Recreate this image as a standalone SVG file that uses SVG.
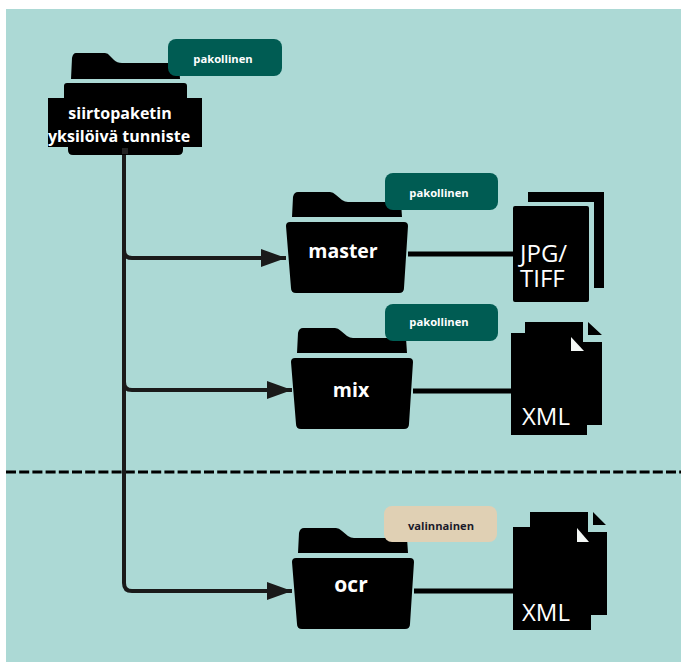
<svg xmlns="http://www.w3.org/2000/svg" width="681" height="662" viewBox="0 0 681 662">
<style>
.k{fill:#000}
.w{fill:#f4f8f6}
.t{font-family:"Open Sans","Noto Sans",sans-serif;fill:#fff}
.b{font-weight:700;font-size:19.5px;text-anchor:middle}
.r{font-weight:700;font-size:16px;text-anchor:middle}
.d{font-size:24px}
.p{font-weight:700;font-size:11.2px;text-anchor:middle}
.c{fill:none;stroke:#1a1a1a;stroke-width:4}
.g{fill:#005c53}
</style>
<defs>
<marker id="a" markerUnits="userSpaceOnUse" markerWidth="25" markerHeight="18" refX="25" refY="9" orient="auto"><path d="M0,0L25,9L0,18z" fill="#1a1a1a"/></marker>
<path id="folder" d="M7,-25L6,-5H116L115,-20H62Q59,-20 56,-22L50,-27Q47,-30 44,-30H12Q8,-30 7,-25ZM4,0H118Q122,0 122,4L118,66Q118,71 113,71H10Q5,71 5,66L0,4Q0,0 4,0Z"/>
</defs>
<rect width="681" height="662" fill="#fff"/>
<rect x="6" y="9" width="675" height="653" fill="#acd9d5"/>
<path d="M6,472H681" fill="none" stroke="#000" stroke-width="3" stroke-dasharray="10 3.2"/>
<g id="connectors">
<path class="c" d="M124,150V250Q124,258 132,258H286" marker-end="url(#a)"/>
<path class="c" d="M124,250V382Q124,390 132,390H292" marker-end="url(#a)"/>
<path class="c" d="M124,380V583Q124,591 132,591H292" marker-end="url(#a)"/>
<path d="M408,254H513M413,391H511M414,591H513" fill="none" stroke="#000" stroke-width="5"/>
</g>
<g id="root">
<path class="k" d="M72,58L71,79H180L179,63H122Q117,63 114,60L110,56Q108,53 105,53H76Q73,53 72,58ZM67,83H184Q187,83 187,86V98H202V147H183V150Q183,155 178,155H73Q68,155 68,150V147H48V98H64V86Q64,83 67,83Z"/>
<rect x="122" y="148" width="6" height="6" fill="#222"/>
<text class="t r"><tspan x="120" y="119">siirtopaketin</tspan><tspan x="119" y="142">yksilöivä tunniste</tspan></text>
<rect class="g" x="168" y="39" width="114" height="37" rx="8"/>
<text class="t p" x="223" y="63">pakollinen</text>
</g>
<g id="master">
<use href="#folder" x="286" y="222"/>
<text class="t b" x="343" y="258">master</text>
<rect class="g" x="385" y="173" width="113" height="37" rx="8"/>
<text class="t p" x="439" y="197">pakollinen</text>
</g>
<g id="master-files">
<path class="k" d="M528,192H604V288H594V202H528ZM515,206H587Q589,206 589,208V300Q589,302 587,302H515Q513,302 513,300V208Q513,206 515,206Z"/>
<text class="t d"><tspan x="520" y="262">JPG/</tspan><tspan x="520" y="287">TIFF</tspan></text>
</g>
<g id="mix">
<use href="#folder" x="291" y="358"/>
<text class="t b" x="351" y="397">mix</text>
<rect class="g" x="385" y="304" width="113" height="37" rx="8"/>
<text class="t p" x="439" y="326">pakollinen</text>
</g>
<g id="mix-files">
<path class="k" d="M525,322H583V342H602V425H587V435H511V333H525ZM588,322L602,335H588Z"/>
<path class="w" d="M571,337L584,351H571Z"/>
<text class="t d" x="522" y="425">XML</text>
</g>
<g id="ocr">
<use href="#folder" x="292" y="558"/>
<text class="t b" x="351" y="592" style="font-size:21px">ocr</text>
<rect x="384" y="506" width="113" height="36" rx="8" fill="#e0d0b4"/>
<text class="t p" x="441" y="530" style="fill:#1a1a2a">valinnainen</text>
</g>
<g id="ocr-files">
<path class="k" d="M530,512H588V532H607V615H591V630H513V527H530ZM593,512L606,525H593Z"/>
<path class="w" d="M577,528L589,542H577Z"/>
<text class="t d" x="522" y="621">XML</text>
</g>
</svg>
